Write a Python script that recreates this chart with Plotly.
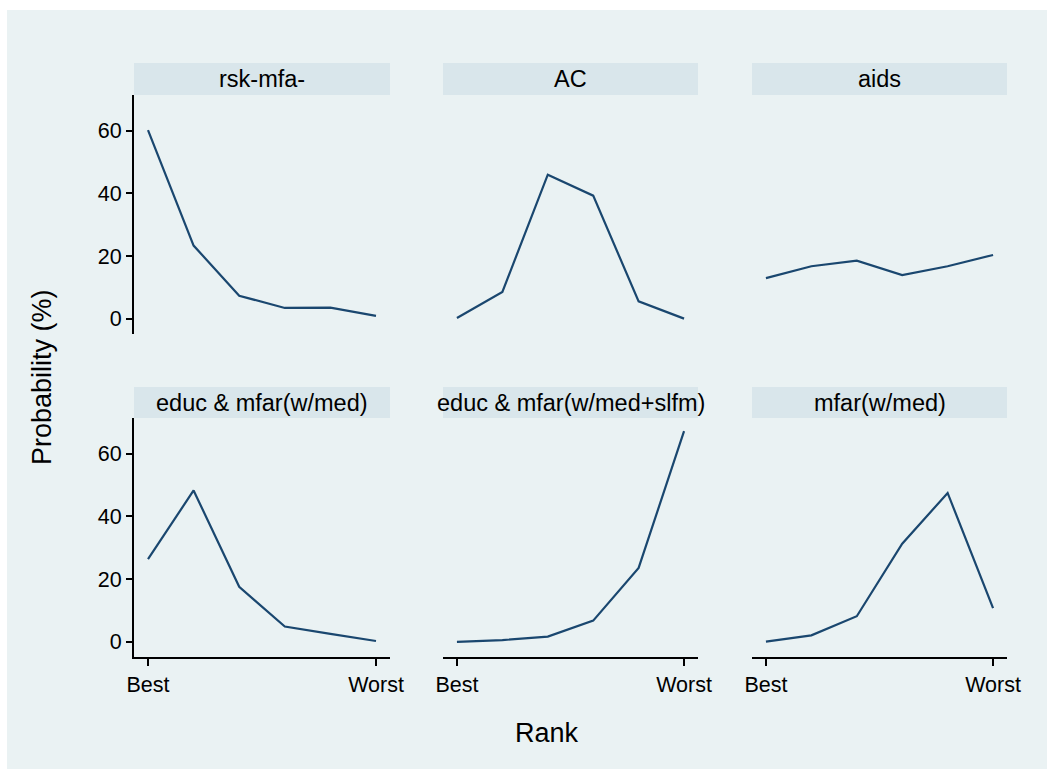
import plotly.graph_objects as go

W, H = 1047, 769

ranks = [1, 2, 3, 4, 5, 6]
tick_vals = [1, 6]
tick_text = ["Best", "Worst"]
y_ticks = [0, 20, 40, 60]

titles = ["rsk-mfa-", "AC", "aids",
          "educ & mfar(w/med)", "educ & mfar(w/med+slfm)", "mfar(w/med)"]

rsk_mfa = [60.2, 23.4, 7.4, 3.5, 3.6, 1.0]
ac = [0.3, 8.6, 46.0, 39.3, 5.6, 0.1]
aids = [13.0, 16.8, 18.6, 14.0, 16.8, 20.4]
educ_mfar_med = [26.4, 48.3, 17.6, 4.9, 2.6, 0.3]
educ_mfar_med_slfm = [0.0, 0.6, 1.7, 6.8, 23.6, 67.2]
mfar_med = [0.1, 2.1, 8.2, 31.3, 47.5, 10.8]

series = [rsk_mfa, ac, aids, educ_mfar_med, educ_mfar_med_slfm, mfar_med]

# pixel geometry
col_x = [(134, 390), (443, 698), (752, 1007)]
row_plot = [(95, 334), (418, 657)]
row_head = [(63, 95), (387, 418)]

BG = "#eaf2f3"
HEAD = "#d9e6eb"
LINE = "#1a476f"
FONT = "Liberation Sans, Arial, sans-serif"

def fx(px):
    return px / W

def fy(py):
    return 1 - py / H

fig = go.Figure()
layout = dict(
    template="none",
    width=W, height=H, margin=dict(l=0, r=0, t=0, b=0, pad=0, autoexpand=False),
    paper_bgcolor="white", plot_bgcolor="white", showlegend=False,
    font=dict(family=FONT, color="black"),
)
shapes = [dict(type="rect", xref="paper", yref="paper",
               x0=fx(7), x1=1, y0=0, y1=fy(10),
               fillcolor=BG, line=dict(width=0), layer="below")]
annotations = []

for i, (t, vals) in enumerate(zip(titles, series)):
    r, c = divmod(i, 3)
    n = i + 1
    xa = "xaxis" if n == 1 else f"xaxis{n}"
    ya = "yaxis" if n == 1 else f"yaxis{n}"
    xr = "x" if n == 1 else f"x{n}"
    yr = "y" if n == 1 else f"y{n}"
    x0, x1 = col_x[c]
    y0, y1 = row_plot[r]
    fig.add_trace(go.Scatter(x=ranks, y=vals, mode="lines",
                             line=dict(color=LINE, width=2.2),
                             xaxis=xr, yaxis=yr, hoverinfo="skip"))
    show_x = r == 1
    show_y = c == 0
    layout[xa] = dict(
        domain=[fx(x0), fx(x1)], range=[0.693, 6.307], anchor=yr,
        automargin=False,
        showgrid=False, zeroline=False,
        showline=show_x, linecolor="black", linewidth=2,
        ticks="outside" if show_x else "", ticklen=7, tickwidth=2, tickcolor="black",
        tickvals=tick_vals, ticktext=tick_text, showticklabels=show_x,
        tickfont=dict(size=21.5, family=FONT, color="black"),
    )
    layout[ya] = dict(
        domain=[fy(y1), fy(y0)], range=[-4.8, 71.4], anchor=xr,
        automargin=False,
        showgrid=True, gridcolor=BG, gridwidth=2, zeroline=False,
        showline=show_y, linecolor="black", linewidth=2,
        ticks="outside" if show_y else "", ticklen=6, tickwidth=2, tickcolor="black",
        tickvals=y_ticks, showticklabels=show_y,
        tickfont=dict(size=21.5, family=FONT, color="black"),
    )
    hy0, hy1 = row_head[r]
    shapes.append(dict(type="rect", xref="paper", yref="paper",
                       x0=fx(x0), x1=fx(x1), y0=fy(hy1), y1=fy(hy0),
                       fillcolor=HEAD, line=dict(width=0)))
    annotations.append(dict(text=t, xref="paper", yref="paper",
                            x=(fx(x0) + fx(x1)) / 2, y=(fy(hy0) + fy(hy1)) / 2,
                            xanchor="center", yanchor="middle", showarrow=False,
                            font=dict(size=23.5, family=FONT, color="black")))

annotations.append(dict(text="Probability (%)", xref="paper", yref="paper",
                        x=fx(42), y=fy(377), textangle=-90, showarrow=False,
                        xanchor="center", yanchor="middle",
                        font=dict(size=27, family=FONT, color="black")))
annotations.append(dict(text="Rank", xref="paper", yref="paper",
                        x=fx(547), y=fy(733), showarrow=False,
                        xanchor="center", yanchor="middle",
                        font=dict(size=27, family=FONT, color="black")))

layout["shapes"] = shapes
layout["annotations"] = annotations
fig.update_layout(**layout)
fig.write_html("out.html")
